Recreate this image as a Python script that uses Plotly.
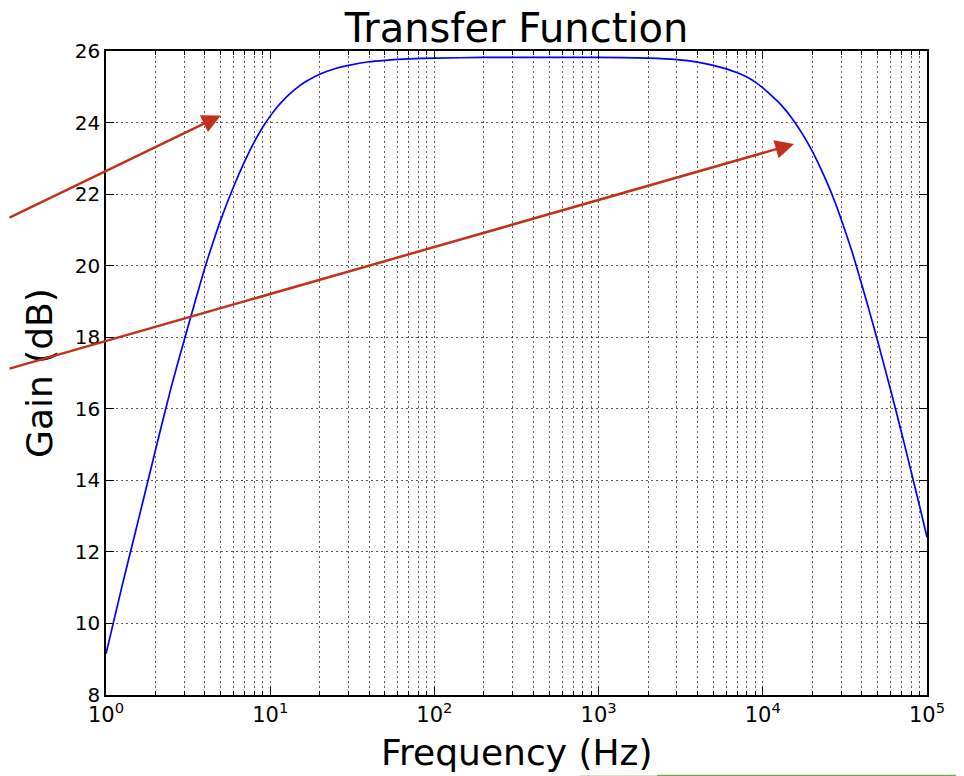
import math
import plotly.graph_objects as go

# ---- data ----
freq_hz = [1, 1.25, 1.5, 1.75, 2, 2.5, 3, 3.5, 4, 4.5, 5, 6, 7, 8, 9, 10, 11, 12,
           13, 15, 17, 20, 25, 30, 40, 50, 70, 100, 200, 500, 1000, 2000, 3000,
           4000, 5000, 6000, 7000, 8000, 9000, 10000, 11000, 12000, 13000, 15000,
           17500, 20000, 22500, 25000, 27500, 30000, 35000, 40000, 45000, 50000,
           60000, 70000, 80000, 90000, 100000]
gain_db = [9.15, 11.03, 12.5, 13.75, 14.84, 16.62, 17.93, 19.02, 19.94, 20.67,
           21.28, 22.22, 22.92, 23.46, 23.87, 24.18, 24.43, 24.62, 24.78, 25.02,
           25.18, 25.35, 25.51, 25.6, 25.7, 25.74, 25.78, 25.8, 25.82, 25.82,
           25.82, 25.8, 25.76, 25.69, 25.6, 25.5, 25.39, 25.27, 25.13, 24.97,
           24.8, 24.64, 24.48, 24.13, 23.67, 23.2, 22.72, 22.25, 21.78, 21.3,
           20.38, 19.48, 18.66, 17.9, 16.53, 15.33, 14.25, 13.29, 12.41]

arrow_head_freq = [5, 15500]
arrow_head_gain = [24.2, 23.4]

y_ticks = [8, 10, 12, 14, 16, 18, 20, 22, 24, 26]
x_major = [1, 10, 100, 1000, 10000, 100000]
x_major_text = ["10<sup>0</sup>", "10<sup>1</sup>", "10<sup>2</sup>",
                "10<sup>3</sup>", "10<sup>4</sup>", "10<sup>5</sup>"]
x_minor = [m * 10 ** k for k in range(5) for m in range(2, 10)]

FONT = "DejaVu Sans"
GRID = "rgba(0,0,0,0.65)"
DASH = "2px,3px"

# the page body has an 8px margin; the figure is sized to compensate
W, H = 956, 768

fig = go.Figure()
fig.add_trace(go.Scatter(
    x=freq_hz, y=gain_db, mode="lines",
    line=dict(color="#0000ff", width=1.7, shape="spline", smoothing=0.6),
    showlegend=False, hoverinfo="skip"))

fig.update_layout(
    width=W, height=H,
    margin=dict(l=98, r=37, t=43, b=81),
    paper_bgcolor="white", plot_bgcolor="white",
    font=dict(family=FONT, color="black", size=20),
    title=dict(text="Transfer Function", x=0.5, xref="paper", xanchor="center",
               y=1 - 20 / H, yref="container", yanchor="middle",
               font=dict(family=FONT, size=40, color="black")),
)

fig.update_xaxes(
    type="log", range=[0, 5],
    tickmode="array", tickvals=x_major, ticktext=x_major_text,
    ticks="inside", ticklen=8, tickwidth=1, tickcolor="black",
    showline=True, linecolor="black", linewidth=1.5, mirror="ticks",
    showgrid=True, gridcolor=GRID, gridwidth=1, griddash=DASH,
    tickfont=dict(family=FONT, size=21),
    zeroline=False,
    minor=dict(tickmode="array", tickvals=x_minor, ticks="inside", ticklen=4,
               tickwidth=1, tickcolor="black",
               showgrid=True, gridcolor=GRID, gridwidth=1, griddash=DASH),
)
fig.update_yaxes(
    range=[8, 26], tickmode="array", tickvals=y_ticks,
    ticks="inside", ticklen=8, tickwidth=1, tickcolor="black",
    showline=True, linecolor="black", linewidth=1.5, mirror="ticks",
    showgrid=True, gridcolor=GRID, gridwidth=1, griddash=DASH,
    tickfont=dict(family=FONT, size=20),
    zeroline=False,
)

# axis labels
fig.add_annotation(text="Frequency (Hz)", xref="paper", yref="paper",
                   x=0.5, y=(695 - 752) / 644, xanchor="center", yanchor="middle",
                   showarrow=False, font=dict(family=FONT, size=36, color="black"))
fig.add_annotation(text="Gain (dB)", xref="paper", yref="paper",
                   x=(39 - 106) / 821, y=0.5, xanchor="center", yanchor="middle",
                   textangle=-90, showarrow=False,
                   font=dict(family=FONT, size=36, color="black"))

# red arrows
tails = [(-222, 103), (-800, 225)]
for f, g, (axp, ayp) in zip(arrow_head_freq, arrow_head_gain, tails):
    fig.add_annotation(x=math.log10(f), y=g, xref="x", yref="y",
                       ax=axp, ay=ayp, axref="pixel", ayref="pixel",
                       text="", showarrow=True, arrowhead=2, arrowsize=1.5,
                       arrowwidth=2.5, arrowcolor="#c1321c", standoff=0)

# thin green line at the bottom edge of the screenshot
yb = (695 - 775.5) / 644
fig.add_shape(type="line", xref="paper", yref="paper",
              x0=(580 - 106) / 821, x1=(657 - 106) / 821, y0=yb, y1=yb,
              line=dict(color="#d6e4c4", width=1))
fig.add_shape(type="line", xref="paper", yref="paper",
              x0=(657 - 106) / 821, x1=(964 - 106) / 821, y0=yb, y1=yb,
              line=dict(color="#7aa84a", width=1.5))

fig.write_html("out.html")
